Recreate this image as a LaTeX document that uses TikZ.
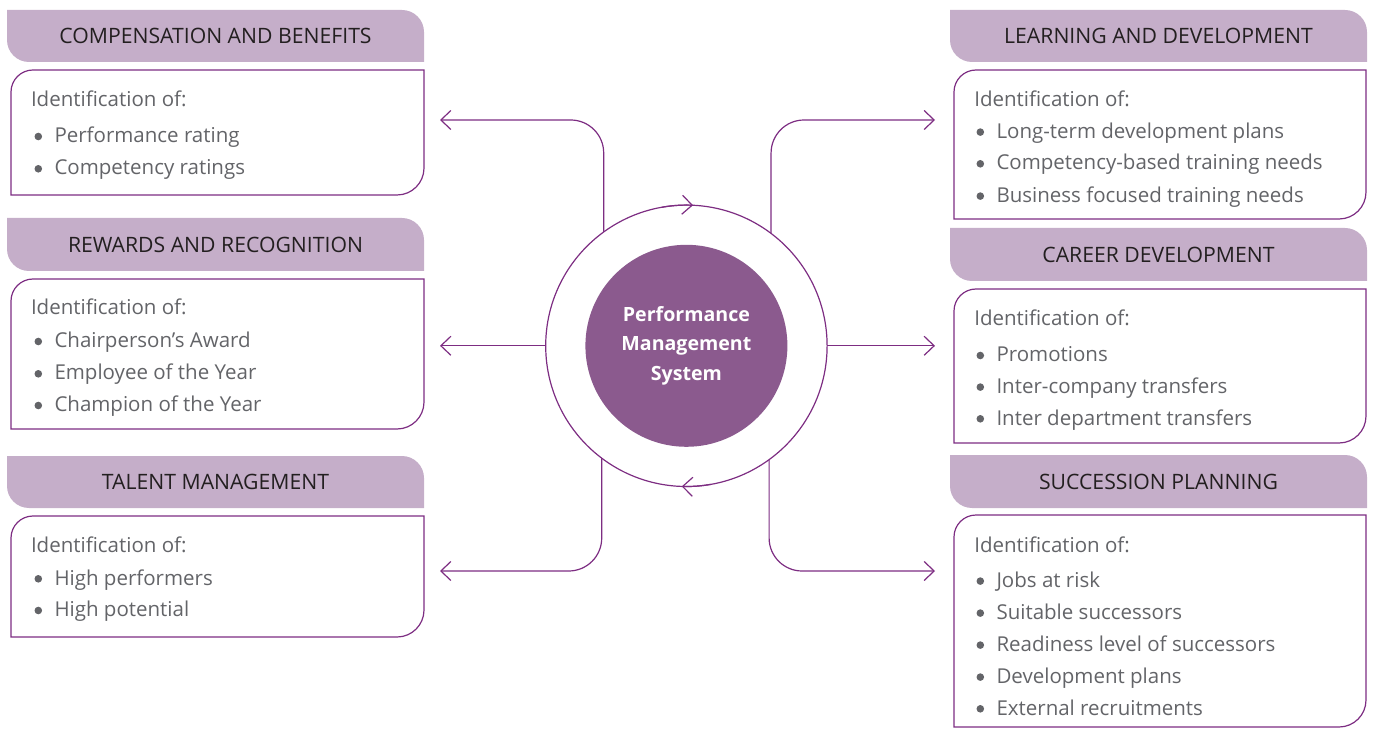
\documentclass[tikz,border=0pt]{standalone}
\usepackage{fontspec}
\setmainfont{Open Sans}
\usetikzlibrary{arrows.meta}
\definecolor{hdrfill}{RGB}{197,174,201}
\definecolor{lineP}{RGB}{125,45,130}
\definecolor{coreP}{RGB}{139,90,142}
\definecolor{bodyG}{RGB}{99,100,104}
\definecolor{hdrT}{RGB}{35,31,32}
\pgfdeclarelayer{bg}
\pgfsetlayers{bg,main}
\newcommand\bul{\makebox[20pt][l]{\raisebox{2.4pt}{\tikz\fill[bodyG] (0,0) circle (3.8pt);}}}
\newcommand\hdrleaf[1]{\fill[hdrfill] (#1.north west) -- ([xshift=-22pt]#1.north east) arc[start angle=90,end angle=0,radius=22pt] -- (#1.south east) -- ([xshift=22pt]#1.south west) arc[start angle=270,end angle=180,radius=22pt] -- cycle;}
\newcommand\contentbox[1]{\draw[boxline] ([yshift=-22pt]#1.north west) arc[start angle=180,end angle=90,radius=22pt] -- (#1.north east) -- ([yshift=27pt]#1.south east) arc[start angle=0,end angle=-90,radius=27pt] -- (#1.south west) -- cycle;}
\begin{document}
\begin{tikzpicture}[x=1pt,y=1pt,
  hdr/.style={minimum width=417pt, inner sep=0pt, outer sep=0pt, text=hdrT, font=\fontsize{21.2}{24}\selectfont},
  cbox/.style={minimum height=#1, inner sep=0pt, outer sep=0pt},
  boxline/.style={draw=lineP, line width=1.2pt},
  txt/.style={anchor=base west, inner sep=0pt, outer sep=0pt, text=bodyG, font=\fontsize{20.5}{24}\selectfont},
  conn/.style={draw=lineP, line width=1.2pt, rounded corners=33pt, -{Straight Barb[length=10pt,width=19pt]}},
  tip/.style={draw=lineP, line width=1.2pt, -{Straight Barb[length=10pt,width=19pt]}}
]
\useasboundingbox (0,0) rectangle (1375,729);

% centre
\node[circle, draw=lineP, line width=1.2pt, minimum size=281.4pt, inner sep=0pt, outer sep=0pt] (ring) at (686.4,383.2) {};
\node[circle, fill=coreP, minimum size=202pt, inner sep=0pt, outer sep=0pt, align=center, text=white, font=\fontsize{19.6}{29.5}\selectfont\bfseries] (pms) at (686.4,383.2) {Performance\\Management\\System};

% headers
\node[hdr, minimum height=52pt] (h1) at (215.5,693) {COMPENSATION AND BENEFITS};
\node[hdr, minimum height=53pt] (h2) at (215.5,484.5) {REWARDS AND RECOGNITION};
\node[hdr, minimum height=52pt] (h3) at (215.5,247) {TALENT MANAGEMENT};
\node[hdr, minimum height=52pt] (h4) at (1158.5,693) {LEARNING AND DEVELOPMENT};
\node[hdr, minimum height=53pt] (h5) at (1158.5,474.5) {CAREER DEVELOPMENT};
\node[hdr, minimum height=53pt] (h6) at (1158.5,247.5) {SUCCESSION PLANNING};
\begin{pgfonlayer}{bg}
\hdrleaf{h1}\hdrleaf{h2}\hdrleaf{h3}\hdrleaf{h4}\hdrleaf{h5}\hdrleaf{h6}
\end{pgfonlayer}

% content boxes
\node[cbox=125pt, minimum width=413pt] (b1) at (217.5,596.5) {};
\node[cbox=150pt, minimum width=413pt] (b2) at (217.5,375) {};
\node[cbox=121pt, minimum width=413pt] (b3) at (217.5,152.5) {};
\node[cbox=149pt, minimum width=412pt] (b4) at (1160,584.5) {};
\node[cbox=154pt, minimum width=412pt] (b5) at (1160,363) {};
\node[cbox=212pt, minimum width=412pt] (b6) at (1160,108) {};
\contentbox{b1}\contentbox{b2}\contentbox{b3}\contentbox{b4}\contentbox{b5}\contentbox{b6}

% texts left
\node[txt] (t1) at (31,622.3) {Identification of:};
\node[txt] (t1a) at (34.5,586.3) {\bul Performance rating};
\node[txt] (t1b) at (34.5,554) {\bul Competency ratings};
\node[txt] (t2) at (31,414) {Identification of:};
\node[txt] (t2a) at (34.5,381.3) {\bul Chairperson’s Award};
\node[txt] (t2b) at (34.5,349) {\bul Employee of the Year};
\node[txt] (t2c) at (34.5,317.3) {\bul Champion of the Year};
\node[txt] (t3) at (31,176.7) {Identification of:};
\node[txt] (t3a) at (34.5,144) {\bul High performers};
\node[txt] (t3b) at (34.5,112.3) {\bul High potential};
% texts right
\node[txt] (t4) at (974.3,622.3) {Identification of:};
\node[txt] (t4a) at (976.5,590.7) {\bul Long-term development plans};
\node[txt] (t4b) at (976.5,559) {\bul Competency-based training needs};
\node[txt] (t4c) at (976.5,526.7) {\bul Business focused training needs};
\node[txt] (t5) at (974.3,403.3) {Identification of:};
\node[txt] (t5a) at (976.5,367.3) {\bul Promotions};
\node[txt] (t5b) at (976.5,335.7) {\bul Inter-company transfers};
\node[txt] (t5c) at (976.5,304) {\bul Inter department transfers};
\node[txt] (t6) at (974.3,176.3) {Identification of:};
\node[txt] (t6a) at (976.5,141.7) {\bul Jobs at risk};
\node[txt] (t6b) at (976.5,109.7) {\bul Suitable successors};
\node[txt] (t6c) at (976.5,77.7) {\bul Readiness level of successors};
\node[txt] (t6d) at (976.5,45.7) {\bul Development plans};
\node[txt] (t6e) at (976.5,14) {\bul External recruitments};

% connector ends
\coordinate (aL1) at (440,609);
\coordinate (aL2) at (440,383.2);
\coordinate (aL3) at (440,158);
\coordinate (aR1) at (935,609);
\coordinate (aR2) at (935,383.2);
\coordinate (aR3) at (935,158);

\draw[conn] (ring.126.6) |- (aL1);
\draw[conn] (ring.west) -- (aL2);
\draw[conn] (ring.233.4) |- (aL3);
\draw[conn] (ring.53.4) |- (aR1);
\draw[conn] (ring.east) -- (aR2);
\draw[conn] (ring.306.6) |- (aR3);

% arrowheads on the ring
\draw[tip] ([shift={(100:140.7)}]ring.center) arc[start angle=100, end angle=87.3, radius=140.7];
\draw[tip] ([shift={(280:140.7)}]ring.center) arc[start angle=280, end angle=268.1, radius=140.7];
\end{tikzpicture}
\end{document}
